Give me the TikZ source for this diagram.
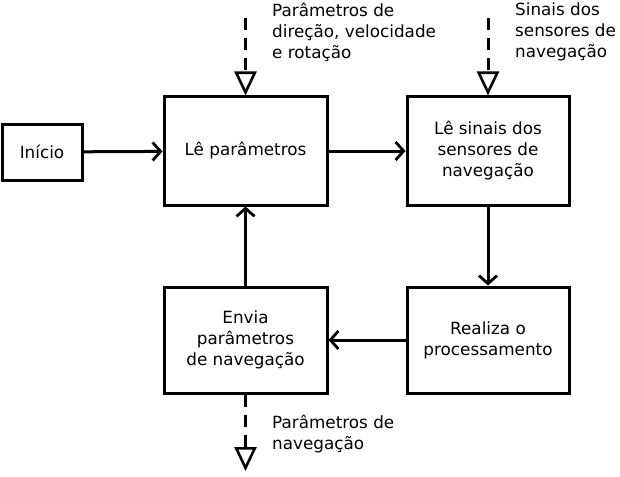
\documentclass[tikz,border=0pt]{standalone}
\usepackage{fontspec}
\setmainfont{DejaVu Sans}
\usetikzlibrary{arrows.meta}
\begin{document}
\begin{tikzpicture}[x=1pt,y=-1pt,
  box/.style={draw, line width=3pt, minimum width=#1, align=center, font=\fontsize{16.8}{21}\selectfont, inner sep=0pt},
  flow/.style={line width=3pt, -{Straight Barb[length=8pt,width=18pt,line width=2.8pt]}},
  ext/.style={line width=3pt, dash pattern=on 12pt off 8pt, -{Triangle[open,length=24pt,width=22pt,line width=2.6pt]}},
  lbl/.style={align=left, anchor=north west, inner sep=0pt, font=\fontsize{16.8}{21}\selectfont}]
\useasboundingbox (0,0) rectangle (620,476);
\node[box=80pt, minimum height=56pt] (ini) at (42,152) {Início};
\node[box=163pt, minimum height=108pt] (le) at (245.5,151) {Lê parâmetros};
\node[box=162pt, minimum height=108pt] (sin) at (488,151) {Lê sinais dos\\sensores de\\navegação};
\node[box=162pt, minimum height=106pt] (rea) at (488,340) {Realiza o\\processamento};
\node[box=163pt, minimum height=106pt] (env) at (245.5,340) {Envia\\parâmetros\\de navegação};
\coordinate (t1) at (245.5,18);
\coordinate (t2) at (488,18);
\coordinate (b1) at (245.5,471);
\draw[flow] (ini) -- (le);
\draw[flow] (le) -- (sin);
\draw[flow] (sin) -- (rea);
\draw[flow] (rea) -- (env);
\draw[flow] (env) -- (le);
\draw[ext] (t1) -- (le.north);
\draw[ext] (t2) -- (sin.north);
\draw[ext] (env.south) -- (b1);
\node[lbl] (l1) at (272,3) {Parâmetros de\\direção, velocidade\\e rotação};
\node[lbl] (l2) at (515,3) {Sinais dos\\sensores de\\navegação};
\node[lbl] (l3) at (272,415) {Parâmetros de\\navegação};
\end{tikzpicture}
\end{document}
